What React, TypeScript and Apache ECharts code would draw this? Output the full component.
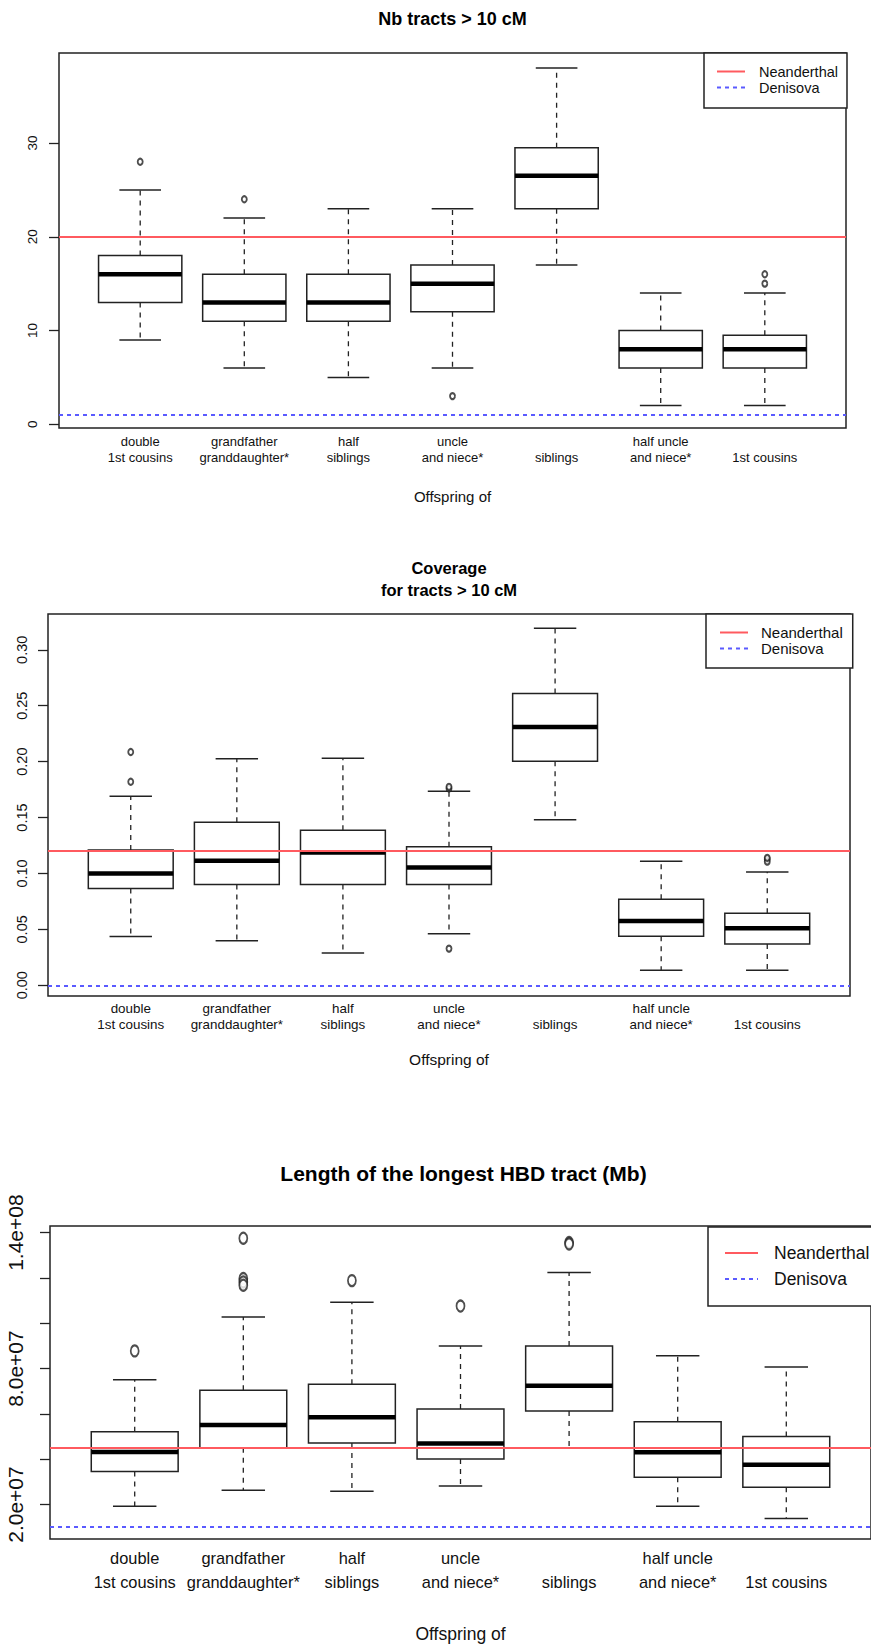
import React, { useEffect, useRef } from "react";
import * as echarts from "echarts";

// ---------- data ----------
const categories = [
  "double\n1st cousins",
  "grandfather\ngranddaughter*",
  "half\nsiblings",
  "uncle\nand niece*",
  "\nsiblings",
  "half uncle\nand niece*",
  "\n1st cousins",
];
const positions = [1, 2, 3, 4, 5, 6, 7];

// Panel 1: Nb tracts > 10 cM
const nbLow = [9, 6, 5, 6, 17, 2, 2];
const nbQ1 = [13, 11, 11, 12, 23, 6, 6];
const nbMedian = [16, 13, 13, 15, 26.5, 8, 8];
const nbQ3 = [18, 16, 16, 17, 29.5, 10, 9.5];
const nbHigh = [25, 22, 23, 23, 38, 14, 14];
const nbOutliers = [[1, 28], [2, 24], [4, 3], [7, 16], [7, 15]];
const nbNeanderthal = 20;
const nbDenisova = 1;
const nbTicks = [0, 10, 20, 30];

// Panel 2: Coverage for tracts > 10 cM
const covLow = [0.0436, 0.0399, 0.0288, 0.046, 0.1479, 0.0135, 0.0135];
const covQ1 = [0.0865, 0.0902, 0.0902, 0.0902, 0.2003, 0.0439, 0.0368];
const covMedian = [0.1, 0.1113, 0.1187, 0.1052, 0.231, 0.0574, 0.0509];
const covQ3 = [0.121, 0.1457, 0.1387, 0.1239, 0.261, 0.077, 0.0644];
const covHigh = [0.169, 0.2025, 0.203, 0.1736, 0.3193, 0.111, 0.1012];
const covOutliers = [
  [1, 0.2086], [1, 0.182], [4, 0.176], [4, 0.1775], [4, 0.0328],
  [7, 0.1126], [7, 0.1105], [7, 0.114],
];
const covNeanderthal = 0.118;
const covDenisova = 0.004;
const covTicks = [0, 0.05, 0.1, 0.15, 0.2, 0.25, 0.3];

// Panel 3: Length of the longest HBD tract
const lenLow = [19.3e6, 26.3e6, 25.9e6, 28.2e6, 45.1e6, 19.3e6, 13.8e6];
const lenQ1 = [34.6e6, 45.1e6, 47.2e6, 40.1e6, 61.3e6, 32.1e6, 27.6e6];
const lenMedian = [43.2e6, 55.1e6, 58.5e6, 46.9e6, 72.4e6, 43.1e6, 37.6e6];
const lenQ3 = [52.1e6, 70.4e6, 73.1e6, 62.2e6, 89.9e6, 56.5e6, 50e6];
const lenHigh = [75.1e6, 102.8e6, 109.3e6, 89.9e6, 122.4e6, 85.7e6, 80.7e6];
const lenOutliers = [
  [1, 87.8e6], [2, 137.5e6], [2, 119.7e6], [2, 118.2e6], [2, 116.8e6],
  [3, 118.8e6], [4, 107.6e6], [5, 135.6e6], [5, 135e6],
];
const lenNeanderthal = 45.1e6;
const lenDenisova = 1.0e7;
const lenTicks = [2e7, 4e7, 6e7, 8e7, 1e8, 1.2e8, 1.4e8];
const lenTickLabels = [2e7, 8e7, 1.4e8];

// ---------- helpers ----------
const FONT = "'Liberation Sans', Arial, Helvetica, sans-serif";
const INK = "#222";
const RED = "#ff5a5f";
const BLUE = "#5a5aff";

function sciLabel(v: number) {
  const e = Math.floor(Math.log10(v) + 1e-9);
  const m = v / Math.pow(10, e);
  return m.toFixed(1) + "e+" + String(e).padStart(2, "0");
}

function buildBoxData(lo: number[], q1: number[], med: number[], q3: number[], hi: number[]) {
  return positions.map((p, i) => [p, lo[i], q1[i], med[i], q3[i], hi[i]]);
}

function boxRender(params: any, api: any) {
  const x = api.value(0);
  const pLo = api.coord([x, api.value(1)]);
  const pQ1 = api.coord([x, api.value(2)]);
  const pMed = api.coord([x, api.value(3)]);
  const pQ3 = api.coord([x, api.value(4)]);
  const pHi = api.coord([x, api.value(5)]);
  const w = api.size([0.8, 0])[0];
  const cx = pMed[0];
  const hw = w / 2;
  const cap = w / 4;
  const dashStyle = { stroke: INK, lineWidth: 1.3, lineDash: [5, 5] };
  const solid = { stroke: INK, lineWidth: 1.5 };
  return {
    type: "group",
    children: [
      { type: "line", shape: { x1: cx, y1: pQ3[1], x2: cx, y2: pHi[1] }, style: dashStyle },
      { type: "line", shape: { x1: cx, y1: pQ1[1], x2: cx, y2: pLo[1] }, style: dashStyle },
      { type: "line", shape: { x1: cx - cap, y1: pHi[1], x2: cx + cap, y2: pHi[1] }, style: solid },
      { type: "line", shape: { x1: cx - cap, y1: pLo[1], x2: cx + cap, y2: pLo[1] }, style: solid },
      {
        type: "rect",
        shape: { x: cx - hw, y: pQ3[1], width: w, height: pQ1[1] - pQ3[1] },
        style: { fill: "#fff", stroke: INK, lineWidth: 1.5 },
      },
      { type: "line", shape: { x1: cx - hw, y1: pMed[1], x2: cx + hw, y2: pMed[1] }, style: { stroke: "#000", lineWidth: 4.5 } },
    ],
  };
}

type Panel = {
  grid: any;
  yMin: number;
  yMax: number;
  ticks: number[];
  tickLabels: number[];
  fmt: (v: number) => string;
  yFont: number;
  yMargin: number;
  catFont: number;
  catLineHeight: number;
  catMargin: number;
  nameFont: number;
  nameGap: number;
  box: number[][];
  outliers: number[][];
  outlierSize: number[];
  neanderthal: number;
  denisova: number;
};

const panels: Panel[] = [
  {
    grid: { left: 59, top: 53, width: 787, height: 375 },
    yMin: -0.4, yMax: 39.6,
    ticks: nbTicks, tickLabels: nbTicks,
    fmt: (v) => String(v),
    yFont: 13.5, yMargin: 20,
    catFont: 13, catLineHeight: 15.5, catMargin: 6,
    nameFont: 15, nameGap: 61,
    box: buildBoxData(nbLow, nbQ1, nbMedian, nbQ3, nbHigh),
    outliers: nbOutliers, outlierSize: [5, 6],
    neanderthal: nbNeanderthal, denisova: nbDenisova,
  },
  {
    grid: { left: 48, top: 614, width: 802, height: 382 },
    yMin: -0.0096, yMax: 0.332,
    ticks: covTicks, tickLabels: covTicks,
    fmt: (v) => v.toFixed(2),
    yFont: 14.5, yMargin: 19,
    catFont: 13.4, catLineHeight: 16, catMargin: 4,
    nameFont: 15.5, nameGap: 55,
    box: buildBoxData(covLow, covQ1, covMedian, covQ3, covHigh),
    outliers: covOutliers, outlierSize: [5, 6],
    neanderthal: covNeanderthal, denisova: covDenisova,
  },
  {
    grid: { left: 50, top: 1226, width: 827, height: 313 },
    yMin: 4.8e6, yMax: 1.429e8,
    ticks: lenTicks, tickLabels: lenTickLabels,
    fmt: sciLabel,
    yFont: 21, yMargin: 24,
    catFont: 16.4, catLineHeight: 24, catMargin: 7,
    nameFont: 17.5, nameGap: 86,
    box: buildBoxData(lenLow, lenQ1, lenMedian, lenQ3, lenHigh),
    outliers: lenOutliers, outlierSize: [8, 11],
    neanderthal: lenNeanderthal, denisova: lenDenisova,
  },
];

const legendSpecs = [
  { left: 704, top: 53, font: 14.5, itemWidth: 28, itemGap: 1, padding: [11, 9, 13, 12], textPad: 9, itemHeight: 17 },
  { left: 706, top: 614, font: 15, itemWidth: 28, itemGap: 1, padding: [11, 10, 12, 13], textPad: 8, itemHeight: 17 },
  { left: 708, top: 1227, font: 17.5, itemWidth: 33, itemGap: 8, padding: [17, 80, 18, 16], textPad: 11, itemHeight: 20 },
];

const titleSpecs = [
  { text: "Nb tracts > 10 cM", x: 452.5, y: 19, size: 18, lh: 22 },
  { text: "Coverage\nfor tracts > 10 cM", x: 449, y: 579, size: 16.5, lh: 22 },
  { text: "Length of the longest HBD tract (Mb)", x: 463.5, y: 1173, size: 21, lh: 26 },
];

export default function App() {
  const ref = useRef<HTMLDivElement>(null);
  useEffect(() => {
    if (!ref.current) return;
    const chart = echarts.init(ref.current, undefined, { renderer: "svg" });

    const grids: any[] = [];
    const xAxes: any[] = [];
    const yAxes: any[] = [];
    const series: any[] = [];

    panels.forEach((p, i) => {
      grids.push({
        ...p.grid,
        show: true,
        borderColor: INK,
        borderWidth: 1.5,
        backgroundColor: "transparent",
        containLabel: false,
      });
      xAxes.push({
        type: "value",
        gridIndex: i,
        min: 0.22,
        max: 7.78,
        name: "Offspring of",
        nameLocation: "middle",
        nameGap: p.nameGap,
        nameTextStyle: { fontFamily: FONT, fontSize: p.nameFont, color: "#111" },
        axisLine: { show: false },
        axisTick: { show: false },
        splitLine: { show: false },
        axisLabel: {
          customValues: positions,
          formatter: (v: number) => categories[Math.round(v) - 1] ?? "",
          fontFamily: FONT,
          fontSize: p.catFont,
          lineHeight: p.catLineHeight,
          color: "#111",
          margin: p.catMargin,
          showMinLabel: true,
          showMaxLabel: true,
        },
      });
      yAxes.push({
        type: "value",
        gridIndex: i,
        min: p.yMin,
        max: p.yMax,
        axisLine: { show: false },
        splitLine: { show: false },
        axisTick: { show: true, customValues: p.ticks, length: 10, lineStyle: { color: INK, width: 1.3 } },
        axisLabel: {
          customValues: p.tickLabels,
          formatter: (v: number) => p.fmt(v),
          rotate: 90,
          fontFamily: FONT,
          fontSize: p.yFont,
          color: "#111",
          margin: p.yMargin,
        },
      });
      series.push({
        type: "custom",
        xAxisIndex: i,
        yAxisIndex: i,
        renderItem: boxRender,
        encode: { x: 0, y: [1, 2, 3, 4, 5] },
        data: p.box,
        z: 2,
      });
      series.push({
        type: "scatter",
        xAxisIndex: i,
        yAxisIndex: i,
        symbol: "emptyCircle",
        symbolSize: p.outlierSize,
        itemStyle: { color: INK, borderColor: INK, borderWidth: 1.2 },
        data: p.outliers,
        z: 3,
      });
      series.push({
        type: "line",
        name: "Neanderthal",
        xAxisIndex: i,
        yAxisIndex: i,
        data: [],
        symbol: "none",
        lineStyle: { color: RED, width: 2, type: "solid" },
        itemStyle: { color: RED },
        markLine: {
          silent: true,
          symbol: "none",
          label: { show: false },
          lineStyle: { color: RED, width: 2, type: "solid" },
          data: [{ yAxis: p.neanderthal }],
        },
        z: 5,
      });
      series.push({
        type: "line",
        name: "Denisova",
        xAxisIndex: i,
        yAxisIndex: i,
        data: [],
        symbol: "none",
        lineStyle: { color: BLUE, width: 2, type: [4, 4] },
        itemStyle: { color: BLUE },
        markLine: {
          silent: true,
          symbol: "none",
          label: { show: false },
          lineStyle: { color: BLUE, width: 2, type: [4, 4] },
          data: [{ yAxis: p.denisova }],
        },
        z: 5,
      });
    });

    const legends = legendSpecs.map((l) => ({
      show: true,
      orient: "vertical",
      left: l.left,
      top: l.top,
      padding: l.padding,
      itemGap: l.itemGap,
      itemWidth: l.itemWidth,
      itemHeight: l.itemHeight,
      borderColor: INK,
      borderWidth: 1.5,
      backgroundColor: "#fff",
      selectedMode: false,
      itemStyle: { opacity: 0 },
      data: ["Neanderthal", "Denisova"],
      textStyle: { fontFamily: FONT, fontSize: l.font, color: "#111", padding: [0, 0, 0, l.textPad] },
      z: 10,
    }));

    const graphics = titleSpecs.map((t) => ({
      type: "text",
      x: t.x,
      y: t.y,
      style: {
        text: t.text,
        fontFamily: FONT,
        fontSize: t.size,
        fontWeight: "bold",
        lineHeight: t.lh,
        fill: "#000",
        align: "center",
        verticalAlign: "middle",
      },
    }));

    chart.setOption({
      animation: false,
      backgroundColor: "#fff",
      grid: grids,
      xAxis: xAxes,
      yAxis: yAxes,
      series,
      legend: legends,
      graphic: graphics,
    });
    return () => chart.dispose();
  }, []);
  return (
    <div
      ref={ref}
      style={{ position: "absolute", left: 0, top: 0, width: 871, height: 1647, background: "#fff" }}
    />
  );
}
